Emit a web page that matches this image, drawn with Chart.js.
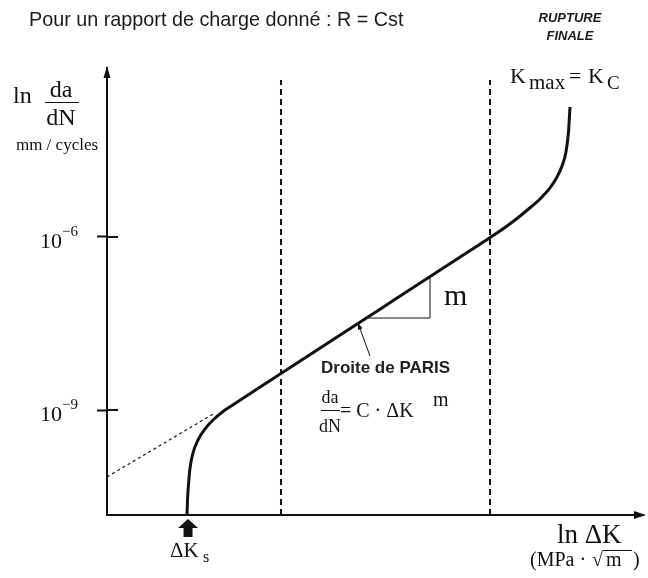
<!DOCTYPE html>
<html><head><meta charset="utf-8">
<script src="https://cdn.jsdelivr.net/npm/chart.js@4.4.0/dist/chart.umd.min.js"></script>
<style>html,body{margin:0;padding:0;background:#fff;} #wrap{width:648px;height:578px;position:relative;}</style>
</head><body><div id="wrap"><canvas id="c"></canvas></div>
<script>
// ---- data (x: ln ΔK arbitrary units, y: log10 da/dN) ----
const xRange = [0, 10];
const yRange = [-10.82, -3.07];
const yTickValues = [-9, -6];
const yTickBase = ['10', '10'];
const yTickExp = ['−9', '−6'];
const curveX = [1.493, 1.502, 1.521, 1.549, 1.604, 1.698, 1.828, 1.978, 2.201, 2.388, 3.246, 5.093, 6.884, 7.164, 7.425, 7.649, 7.854, 8.078, 8.265, 8.396, 8.489, 8.563, 8.610, 8.638];
const curveY = [-10.82, -10.561, -10.283, -10.006, -9.746, -9.520, -9.329, -9.173, -9.000, -8.887, -8.366, -7.252, -6.170, -6.000, -5.835, -5.679, -5.523, -5.341, -5.150, -4.960, -4.769, -4.526, -4.179, -3.746];
const extrapX = [0, 2.015];
const extrapY = [-10.16, -9.05];
const thresholdDK = 1.493;
const transitionX = [3.246, 7.146];
const dashedTop = -3.28;
const slopeX = [4.81, 6.026, 6.026];
const slopeY = [-7.405, -7.405, -6.68];
const pointerX = [4.907, 4.683];
const pointerY = [-8.064, -7.491];

const SERIF = '"Liberation Serif", "DejaVu Serif", serif';
const SANS = '"Liberation Sans", Arial, sans-serif';
const INK = '#111';

const zip = (xs, ys) => xs.map((x, i) => ({x, y: ys[i]}));

const datasets = [
  {data: zip(curveX, curveY), borderColor: INK, borderWidth: 3, cubicInterpolationMode: 'monotone', pointRadius: 0},
  {data: zip(extrapX, extrapY), borderColor: INK, borderWidth: 1.2, borderDash: [3, 3], pointRadius: 0},
  {data: zip(slopeX, slopeY), borderColor: INK, borderWidth: 1, pointRadius: 0},
  {data: zip(pointerX, pointerY), borderColor: INK, borderWidth: 1, pointRadius: 0}
];
transitionX.forEach(x => datasets.push({data: [{x, y: yRange[0]}, {x, y: dashedTop}], borderColor: INK, borderWidth: 2, borderDash: [6, 4], pointRadius: 0}));

const deco = {
  id: 'deco',
  afterDraw(chart) {
    const ctx = chart.ctx, xs = chart.scales.x, ys = chart.scales.y, a = chart.chartArea;
    ctx.save();
    ctx.fillStyle = INK; ctx.strokeStyle = INK;
    // axis arrows
    ctx.beginPath(); ctx.moveTo(a.left, a.top - 2); ctx.lineTo(a.left - 3.5, a.top + 10); ctx.lineTo(a.left + 3.5, a.top + 10); ctx.closePath(); ctx.fill();
    ctx.beginPath(); ctx.moveTo(a.right + 3, a.bottom); ctx.lineTo(a.right - 9, a.bottom - 4); ctx.lineTo(a.right - 9, a.bottom + 4); ctx.closePath(); ctx.fill();
    // y tick inner halves + labels
    yTickValues.forEach((v, i) => {
      const py = ys.getPixelForValue(v);
      ctx.lineWidth = 2;
      ctx.beginPath(); ctx.moveTo(a.left, py); ctx.lineTo(a.left + 11, py); ctx.stroke();
      ctx.textBaseline = 'alphabetic'; ctx.textAlign = 'left';
      ctx.font = '22px ' + SERIF;
      ctx.fillText(yTickBase[i], 40, py + 11);
      ctx.font = '15px ' + SERIF;
      ctx.fillText(yTickExp[i], 62, py - 1);
    });
    // pointer arrowhead
    const hx = xs.getPixelForValue(pointerX[1]), hy = ys.getPixelForValue(pointerY[1]);
    const tx = xs.getPixelForValue(pointerX[0]), ty = ys.getPixelForValue(pointerY[0]);
    const ang = Math.atan2(hy - ty, hx - tx);
    ctx.beginPath(); ctx.moveTo(hx, hy);
    ctx.lineTo(hx - 7 * Math.cos(ang - 0.35), hy - 7 * Math.sin(ang - 0.35));
    ctx.lineTo(hx - 7 * Math.cos(ang + 0.35), hy - 7 * Math.sin(ang + 0.35));
    ctx.closePath(); ctx.fill();
    // threshold block arrow
    const kx = xs.getPixelForValue(thresholdDK) + 1;
    ctx.beginPath();
    ctx.moveTo(kx, a.bottom + 4); ctx.lineTo(kx + 10, a.bottom + 13); ctx.lineTo(kx + 4.5, a.bottom + 13);
    ctx.lineTo(kx + 4.5, a.bottom + 22); ctx.lineTo(kx - 4.5, a.bottom + 22); ctx.lineTo(kx - 4.5, a.bottom + 13);
    ctx.lineTo(kx - 10, a.bottom + 13); ctx.closePath(); ctx.fill();
    ctx.textAlign = 'left'; ctx.textBaseline = 'alphabetic';
    ctx.font = '21px ' + SERIF; ctx.fillText('ΔK', 170, 557);
    ctx.font = '16px ' + SERIF; ctx.fillText('s', 203, 562);
    // title
    ctx.fillStyle = '#1a1a1a';
    ctx.font = '19.8px ' + SANS; ctx.fillText('Pour un rapport de charge donné : R = Cst', 29, 26);
    ctx.font = 'italic bold 13px ' + SANS; ctx.textAlign = 'center';
    ctx.fillText('RUPTURE', 570, 22); ctx.fillText('FINALE', 570, 40);
    ctx.fillStyle = INK;
    // y label
    ctx.textAlign = 'left';
    ctx.font = '24px ' + SERIF; ctx.fillText('ln', 13, 103);
    ctx.textAlign = 'center';
    ctx.fillText('da', 61, 97); ctx.fillText('dN', 61, 125);
    ctx.lineWidth = 1; ctx.beginPath(); ctx.moveTo(45, 102.5); ctx.lineTo(79, 102.5); ctx.stroke();
    ctx.font = '17px ' + SERIF; ctx.fillText('mm / cycles', 57, 150);
    // Kmax = KC
    ctx.textAlign = 'left';
    ctx.font = '22px ' + SERIF; ctx.fillText('K', 510, 83);
    ctx.font = '21px ' + SERIF; ctx.fillText('max', 529, 89);
    ctx.font = '22px ' + SERIF; ctx.fillText('=', 569, 83); ctx.fillText('K', 588, 83);
    ctx.font = '19px ' + SERIF; ctx.fillText('C', 607, 89);
    // slope m
    ctx.font = '30px ' + SERIF; ctx.fillText('m', 444, 305);
    // Paris
    ctx.font = 'bold 17px ' + SANS; ctx.fillStyle = '#222'; ctx.fillText('Droite de PARIS', 321, 373);
    ctx.fillStyle = INK;
    ctx.textAlign = 'center'; ctx.font = '18px ' + SERIF;
    ctx.fillText('da', 330, 403); ctx.fillText('dN', 330, 432);
    ctx.beginPath(); ctx.moveTo(321, 410.5); ctx.lineTo(340, 410.5); ctx.stroke();
    ctx.textAlign = 'left'; ctx.font = '20px ' + SERIF;
    ctx.fillText('= C · ΔK', 340, 417);
    ctx.font = '20px ' + SERIF; ctx.fillText('m', 433, 406);
    // x label
    ctx.font = '27px ' + SERIF; ctx.fillText('ln ΔK', 557, 543);
    ctx.font = '20px ' + SERIF;
    ctx.fillText('(MPa · ', 530, 566);
    ctx.fillText('√', 592, 566);
    ctx.fillText('m', 606, 566);
    ctx.fillText(')', 633, 566);
    ctx.lineWidth = 1; ctx.beginPath(); ctx.moveTo(603, 550.5); ctx.lineTo(632, 550.5); ctx.stroke();
    ctx.restore();
  }
};

new Chart(document.getElementById('c'), {
  type: 'scatter',
  data: {datasets: datasets.map(d => Object.assign({showLine: true, fill: false, tension: 0}, d))},
  options: {
    responsive: true, maintainAspectRatio: false, animation: false,
    layout: {padding: {top: 68, right: 5, left: 0, bottom: 0}},
    plugins: {legend: {display: false}, tooltip: {enabled: false}},
    scales: {
      x: {type: 'linear', min: xRange[0], max: xRange[1],
          grid: {display: false}, ticks: {display: false},
          border: {display: true, color: INK, width: 2},
          afterFit: s => { s.height = 63; }},
      y: {type: 'linear', min: yRange[0], max: yRange[1],
          afterBuildTicks: s => { s.ticks = yTickValues.map(v => ({value: v})); },
          grid: {display: true, drawOnChartArea: false, drawTicks: true, tickLength: 10, tickColor: INK, tickWidth: 2},
          ticks: {display: false},
          border: {display: true, color: INK, width: 2},
          afterFit: s => { s.width = 107; }}
    }
  },
  plugins: [deco]
});
</script></body></html>
